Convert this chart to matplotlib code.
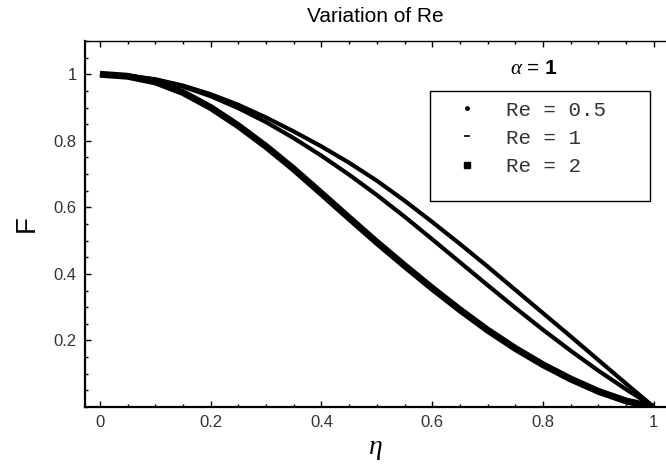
import matplotlib
matplotlib.use('Agg')
import matplotlib.pyplot as plt
from matplotlib.lines import Line2D
from matplotlib.patches import Rectangle
from matplotlib.ticker import MultipleLocator

plt.rcParams['font.family'] = 'Liberation Sans'
plt.rcParams['mathtext.fontset'] = 'custom'
plt.rcParams['mathtext.it'] = 'Liberation Serif:italic'
plt.rcParams['mathtext.rm'] = 'Liberation Sans'
plt.rcParams['mathtext.bf'] = 'Liberation Sans:bold'

# eta grid and F values
eta = [0.0, 0.05, 0.1, 0.15, 0.2, 0.25, 0.3, 0.35, 0.4, 0.45, 0.5,
       0.55, 0.6, 0.65, 0.7, 0.75, 0.8, 0.85, 0.9, 0.95, 1.0]
f_re05 = [1.000, 0.996, 0.985, 0.966, 0.940, 0.908, 0.870, 0.828, 0.783, 0.734, 0.680,
          0.620, 0.556, 0.490, 0.422, 0.352, 0.282, 0.212, 0.141, 0.070, 0.0]
f_re1 = [1.000, 0.996, 0.984, 0.963, 0.934, 0.898, 0.856, 0.808, 0.755, 0.698, 0.637,
         0.572, 0.504, 0.435, 0.366, 0.298, 0.232, 0.169, 0.109, 0.053, 0.0]
f_re2 = [1.000, 0.994, 0.977, 0.945, 0.900, 0.845, 0.783, 0.715, 0.642, 0.568, 0.495,
         0.425, 0.357, 0.292, 0.231, 0.176, 0.127, 0.084, 0.047, 0.018, 0.0]
labels = ['Re = 0.5', 'Re = 1', 'Re = 2']

fig = plt.figure(figsize=(6.66, 4.69), dpi=100)
ax = fig.add_axes([0.1276, 0.1322, 0.8724, 0.7804])

ax.plot(eta, f_re05, color='black', lw=3.0, solid_capstyle='butt')
ax.plot(eta, f_re1, color='black', lw=3.0, solid_capstyle='butt')
ax.plot(eta, f_re2, color='black', lw=5.0, solid_capstyle='butt')

ax.set_xlim(-0.027, 1.022)
ax.set_ylim(0.0, 1.1)
ax.xaxis.set_minor_locator(MultipleLocator(0.05))
ax.yaxis.set_minor_locator(MultipleLocator(0.05))
ax.set_xticks([0, 0.2, 0.4, 0.6, 0.8, 1.0])
ax.set_xticklabels(['0', '0.2', '0.4', '0.6', '0.8', '1'])
ax.set_yticks([0.2, 0.4, 0.6, 0.8, 1.0])
ax.set_yticklabels(['0.2', '0.4', '0.6', '0.8', '1'])
ax.tick_params(which='both', direction='in', top=True, right=False,
               labelsize=12, pad=6, colors='black')
ax.tick_params(which='major', length=4, width=1)
ax.tick_params(which='minor', length=2.5, width=1)
for lab in ax.get_xticklabels() + ax.get_yticklabels():
    lab.set_color('#333333')

ax.spines['right'].set_visible(False)
ax.spines['left'].set_linewidth(1.6)
ax.spines['bottom'].set_linewidth(1.6)
ax.spines['top'].set_linewidth(1.0)

ax.set_title('Variation of Re', fontsize=15, pad=14)
ax.set_xlabel(r'$\eta$', fontsize=20, labelpad=4)
ax.set_ylabel('F', fontsize=20, labelpad=10)

ax.text(0.772, 0.926, r'$\alpha$ = $\mathbf{1}$', transform=ax.transAxes,
        ha='center', va='center', fontsize=15)

# legend: box drawn separately, entries without frame
ax.add_patch(Rectangle((0.594, 0.563), 0.378, 0.300, transform=ax.transAxes,
                       fill=False, edgecolor='black', lw=1.0, zorder=5))
handles = [Line2D([], [], ls='none', marker='o', ms=2.5, color='black'),
           Line2D([], [], ls='none', marker='_', ms=5, mew=1.2, color='black'),
           Line2D([], [], ls='none', marker='s', ms=5, color='black')]
leg = ax.legend(handles, labels, loc='upper left', bbox_to_anchor=(0.594, 0.863),
                borderaxespad=0, prop={'family': 'Liberation Mono', 'size': 15},
                handlelength=2.6, handletextpad=0.6, borderpad=0.45,
                labelspacing=0.44, frameon=False)
for t in leg.get_texts():
    t.set_color('#333333')

fig.savefig('out.png', dpi=100)
